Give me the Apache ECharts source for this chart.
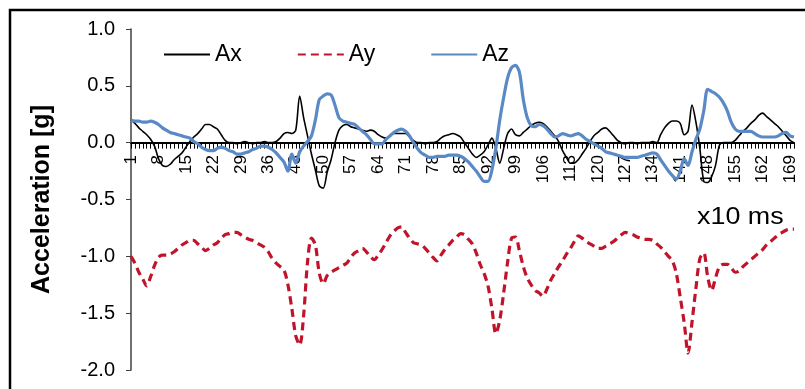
<!DOCTYPE html>
<html>
<head>
<meta charset="utf-8">
<script src="https://cdn.jsdelivr.net/npm/echarts@6/dist/echarts.min.js"></script>
<style>
  html, body { margin: 0; padding: 0; background: #fff; }
  #chart { width: 805px; height: 389px; }
</style>
</head>
<body>
<div id="chart"></div>
<script>
// samples 1..170 (x10 ms)
const categories = [];
for (let i = 1; i <= 170; i++) categories.push(String(i));

const ax = [
  0.20, 0.17, 0.13, 0.10, 0.07, 0.03, -0.03, -0.14, -0.20, -0.21,
  -0.19, -0.15, -0.12, -0.09, -0.04, 0.01, 0.05, 0.08, 0.12, 0.16,
  0.16, 0.14, 0.12, 0.07, 0.02, 0.00, 0.00, -0.01, 0.00, 0.01,
  0.00, -0.01, 0.00, 0.00, 0.01, 0.00, 0.00, 0.01, 0.04, 0.08,
  0.09, 0.08, 0.11, 0.41, 0.22, 0.06, -0.10, -0.24, -0.38, -0.40,
  -0.26, -0.15, 0.00, 0.11, 0.15, 0.16, 0.14, 0.13, 0.12, 0.11,
  0.10, 0.11, 0.10, 0.07, 0.05, 0.04, 0.06, 0.08, 0.08, 0.08,
  0.08, 0.05, 0.02, 0.00, 0.00, -0.01, 0.00, 0.00, 0.01, 0.04,
  0.06, 0.07, 0.08, 0.07, 0.05, 0.00, -0.05, -0.10, -0.13, -0.11,
  -0.08, -0.02, 0.04, -0.05, -0.18, -0.05, 0.08, 0.12, 0.07, 0.06,
  0.09, 0.12, 0.15, 0.17, 0.18, 0.17, 0.14, 0.10, 0.06, 0.01,
  -0.07, -0.13, -0.18, -0.18, -0.15, -0.10, -0.05, 0.01, 0.06, 0.09,
  0.12, 0.13, 0.10, 0.06, 0.02, 0.00, -0.01, 0.00, 0.00, -0.01,
  0.00, 0.00, 0.00, 0.01, 0.00, 0.07, 0.13, 0.17, 0.19, 0.19,
  0.17, 0.07, 0.10, 0.33, 0.18, -0.05, -0.34, -0.35, -0.30, -0.20,
  -0.02, 0.00, 0.00, 0.00, 0.02, 0.06, 0.10, 0.13, 0.17, 0.20,
  0.24, 0.26, 0.23, 0.20, 0.17, 0.14, 0.10, 0.06, 0.02, 0.00
];

const ay = [
  -1.00, -1.06, -1.14, -1.20, -1.26, -1.18, -1.08, -1.01, -0.99, -0.99,
  -0.98, -0.96, -0.93, -0.90, -0.88, -0.86, -0.86, -0.89, -0.92, -0.95,
  -0.93, -0.90, -0.88, -0.84, -0.81, -0.80, -0.79, -0.79, -0.81, -0.83,
  -0.85, -0.86, -0.88, -0.90, -0.92, -0.96, -1.02, -1.06, -1.09, -1.12,
  -1.25, -1.46, -1.70, -1.78, -1.52, -1.05, -0.84, -0.90, -1.15, -1.24,
  -1.17, -1.14, -1.12, -1.10, -1.08, -1.06, -1.01, -0.97, -0.95, -0.93,
  -0.96, -1.00, -1.03, -0.99, -0.94, -0.88, -0.82, -0.78, -0.75, -0.74,
  -0.79, -0.84, -0.88, -0.89, -0.90, -0.93, -0.97, -1.01, -1.04, -0.99,
  -0.94, -0.90, -0.86, -0.83, -0.80, -0.81, -0.85, -0.89, -0.97, -1.07,
  -1.15, -1.26, -1.46, -1.68, -1.56, -1.32, -1.05, -0.84, -0.83, -0.95,
  -1.09, -1.19, -1.25, -1.30, -1.32, -1.35, -1.29, -1.21, -1.15, -1.09,
  -1.04, -0.98, -0.93, -0.87, -0.82, -0.84, -0.87, -0.89, -0.91, -0.93,
  -0.93, -0.91, -0.89, -0.87, -0.84, -0.81, -0.79, -0.80, -0.81, -0.83,
  -0.84, -0.85, -0.85, -0.86, -0.89, -0.92, -0.96, -1.00, -1.04, -1.15,
  -1.36, -1.58, -1.85, -1.58, -1.28, -1.02, -0.97, -1.18, -1.30, -1.19,
  -1.09, -1.07, -1.07, -1.10, -1.14, -1.13, -1.09, -1.06, -1.03, -1.00,
  -0.97, -0.94, -0.90, -0.87, -0.84, -0.81, -0.79, -0.77, -0.76, -0.76
];

const az = [
  0.20, 0.19, 0.19, 0.18, 0.18, 0.19, 0.18, 0.16, 0.13, 0.11,
  0.09, 0.08, 0.07, 0.06, 0.05, 0.04, 0.01, -0.01, -0.04, -0.06,
  -0.07, -0.07, -0.05, -0.04, -0.05, -0.07, -0.08, -0.10, -0.10, -0.09,
  -0.08, -0.06, -0.05, -0.03, -0.03, -0.04, -0.06, -0.09, -0.13, -0.17,
  -0.25, -0.10, -0.18, -0.08, -0.03, 0.01, 0.06, 0.20, 0.38, 0.41,
  0.43, 0.42, 0.33, 0.22, 0.19, 0.18, 0.17, 0.16, 0.13, 0.10,
  0.07, 0.03, -0.01, -0.01, -0.01, 0.03, 0.06, 0.09, 0.11, 0.12,
  0.10, 0.06, 0.00, -0.05, -0.09, -0.11, -0.13, -0.13, -0.12, -0.12,
  -0.12, -0.11, -0.11, -0.11, -0.12, -0.14, -0.17, -0.21, -0.25, -0.30,
  -0.34, -0.34, -0.24, -0.05, 0.20, 0.40, 0.57, 0.66, 0.68, 0.62,
  0.38, 0.22, 0.15, 0.14, 0.16, 0.15, 0.12, 0.08, 0.05, 0.06,
  0.08, 0.07, 0.06, 0.07, 0.08, 0.06, 0.03, 0.01, -0.01, -0.03,
  -0.05, -0.08, -0.09, -0.10, -0.11, -0.12, -0.13, -0.13, -0.13, -0.13,
  -0.12, -0.11, -0.10, -0.09, -0.10, -0.15, -0.20, -0.25, -0.29, -0.32,
  -0.25, -0.14, -0.20, -0.08, 0.03, 0.12, 0.28, 0.47, 0.45, 0.43,
  0.40, 0.35, 0.28, 0.18, 0.12, 0.10, 0.10, 0.10, 0.10, 0.08,
  0.06, 0.05, 0.05, 0.05, 0.05, 0.06, 0.08, 0.09, 0.06, 0.05
];

const yTicks = [-2.0, -1.5, -1.0, -0.5, 0.0, 0.5, 1.0];

const font = 'Liberation Sans, Arial, sans-serif';

var chart = echarts.init(document.getElementById('chart'));

const option = {
  animation: false,
  backgroundColor: '#fff',
  textStyle: { fontFamily: font, color: '#000' },
  legend: {
    left: 158,
    top: 38,
    itemWidth: 46,
    itemHeight: 14,
    itemGap: 55,
    itemStyle: { opacity: 0 },
    textStyle: { fontFamily: font, fontSize: 23, color: '#000' },
    data: ['Ax', 'Ay', 'Az']
  },
  grid: {
    left: 131,
    right: 11,
    top: 29,
    bottom: 19
  },
  xAxis: {
    type: 'category',
    data: categories,
    boundaryGap: false,
    axisLine: { onZero: true, lineStyle: { color: '#000', width: 2 } },
    axisTick: { interval: 0, length: 6, lineStyle: { color: '#000', width: 1 } },
    axisLabel: {
      interval: 6,
      rotate: 90,
      fontSize: 17,
      color: '#000',
      // labels sit just under the zero line, not under the plot
      margin: -215,
      fontFamily: font
    },
    splitLine: { show: false }
  },
  yAxis: {
    type: 'value',
    min: yTicks[0],
    max: yTicks[yTicks.length - 1],
    interval: 0.5,
    name: 'Acceleration [g]',
    nameLocation: 'middle',
    nameGap: 76,
    nameTextStyle: { fontFamily: font, fontSize: 25, fontWeight: 'bold', color: '#000' },
    axisLine: { show: true, lineStyle: { color: '#404040', width: 1.5 } },
    axisTick: { show: true, length: 5, lineStyle: { color: '#404040' } },
    axisLabel: {
      fontSize: 20,
      color: '#000',
      margin: 16,
      fontFamily: font,
      formatter: v => v.toFixed(1)
    },
    splitLine: { show: false }
  },
  graphic: [
    {
      type: 'rect',
      shape: { x: 10, y: 10, width: 810, height: 400 },
      style: { fill: 'none', stroke: '#000', lineWidth: 2.5 },
      silent: true
    },
    {
      type: 'text',
      x: 697,
      y: 205,
      scaleX: 1.12,
      style: { text: 'x10 ms', fontFamily: font, fontSize: 24, fill: '#000' }
    }
  ],
  series: [
    {
      name: 'Ax',
      type: 'line',
      data: ax,
      smooth: 0.3,
      symbol: 'none',
      color: '#000',
      lineStyle: { color: '#000', width: 1.6 }
    },
    {
      name: 'Ay',
      type: 'line',
      data: ay,
      smooth: 0.3,
      symbol: 'none',
      color: '#c0142a',
      lineStyle: { color: '#c0142a', width: 3.2, type: [8, 5] }
    },
    {
      name: 'Az',
      type: 'line',
      data: az,
      smooth: 0.3,
      symbol: 'none',
      color: '#5a8ac6',
      lineStyle: { color: '#5a8ac6', width: 3.2 }
    }
  ]
};

chart.setOption(option);
</script>
</body>
</html>
